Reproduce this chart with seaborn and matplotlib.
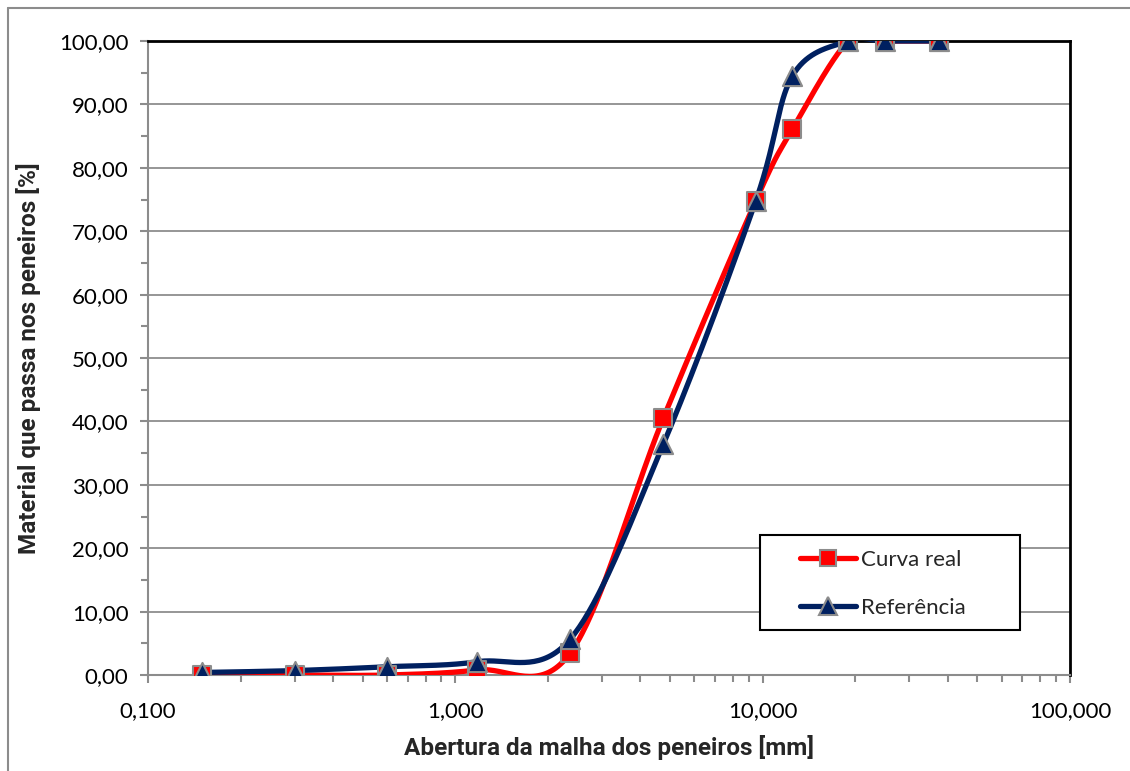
import numpy as np
import pandas as pd
import matplotlib
matplotlib.use("Agg")
import matplotlib.pyplot as plt
import seaborn as sns
from matplotlib.lines import Line2D
from matplotlib.patches import Rectangle
from matplotlib.ticker import FixedLocator, MultipleLocator, LogLocator, NullFormatter

# ---- data ----
sieves = [0.15, 0.3, 0.6, 1.18, 2.36, 4.75, 9.5, 12.5, 19.0, 25.0, 37.5]
curva_real = [0.0, 0.0, 0.0, 0.8, 3.4, 40.5, 74.8, 86.1, 100.0, 100.0, 100.0]
referencia = [0.4, 0.7, 1.3, 2.1, 5.6, 36.4, 74.8, 94.5, 100.0, 100.0, 100.0]
series_names = ["Curva real", "Referência"]
series_colors = ["#FF0000", "#002060"]
series_markers = ["s", "^"]
x_ticks = [0.1, 1, 10, 100]
x_ticklabels = ["0,100", "1,000", "10,000", "100,000"]
y_ticks = list(range(0, 101, 10))

sns.set_theme(style="white")
plt.rcParams['font.family'] = ['Lato', 'DejaVu Sans']


def smooth(xs, ys, n=40):
    """Excel-like Bezier smoothing in (log10 x, y) space."""
    lx = np.log10(np.asarray(xs, float))
    yy = np.asarray(ys, float)
    P = np.column_stack([lx, yy])
    out = []
    m = len(P)
    t = np.linspace(0, 1, n)[:, None]
    for i in range(m - 1):
        p0 = P[i]
        p3 = P[i + 1]
        pm = P[i - 1] if i > 0 else P[i]
        pp = P[i + 2] if i + 2 < m else P[i + 1]
        c1 = p0 + (p3 - pm) / 6.0
        c2 = p3 - (pp - p0) / 6.0
        seg = ((1 - t) ** 3) * p0 + 3 * ((1 - t) ** 2) * t * c1 + 3 * (1 - t) * t ** 2 * c2 + t ** 3 * p3
        out.append(seg if i == 0 else seg[1:])
    arr = np.vstack(out)
    return 10 ** arr[:, 0], arr[:, 1]


fig = plt.figure(figsize=(11.3, 7.71), dpi=100)
ax = fig.add_axes([148 / 1130, 96 / 771, 922 / 1130, 634 / 771])

for name, vals, col, mk in zip(series_names, [curva_real, referencia], series_colors, series_markers):
    sx, sy = smooth(sieves, vals)
    dfl = pd.DataFrame({"x": sx, "y": sy})
    sns.lineplot(data=dfl, x="x", y="y", ax=ax, color=col, lw=3.8, sort=False,
                 estimator=None, zorder=3, solid_capstyle="round")
    dfp = pd.DataFrame({"x": sieves, "y": vals})
    ms = 150 if mk == "s" else 190
    sns.scatterplot(data=dfp, x="x", y="y", ax=ax, color=col, marker=mk, s=ms,
                    edgecolor="#8C8C8C", linewidth=1.5, zorder=4)

ax.set_xscale("log")
ax.set_xlim(0.1, 100)
ax.set_ylim(0, 100)

ax.xaxis.set_major_locator(FixedLocator(x_ticks))
ax.set_xticklabels(x_ticklabels)
ax.xaxis.set_minor_locator(LogLocator(base=10, subs=np.arange(2, 10)))
ax.xaxis.set_minor_formatter(NullFormatter())
ax.set_yticks(y_ticks)
ax.set_yticklabels([f"{v:.2f}".replace(".", ",") for v in y_ticks])
ax.yaxis.set_minor_locator(MultipleLocator(5))

ax.grid(False)
for v in y_ticks[1:-1]:
    ax.axhline(v, color="#969696", lw=1.4, zorder=1)

for side in ["left", "bottom"]:
    ax.spines[side].set_color("#8C8C8C")
    ax.spines[side].set_linewidth(1.5)
for side in ["top", "right"]:
    ax.spines[side].set_color("black")
    ax.spines[side].set_linewidth(2.0)

ax.tick_params(axis="both", which="major", direction="out", length=6, width=1.5,
               color="#8C8C8C", labelsize=16, labelcolor="black", bottom=True, left=True)
ax.tick_params(axis="y", which="major", pad=8)
ax.tick_params(axis="x", which="major", pad=13)
ax.tick_params(axis="both", which="minor", direction="out", length=5, width=1.5,
               color="#8C8C8C", bottom=True, left=True)

lab_font = ['Roboto', 'DejaVu Sans']
ax.set_xlabel("Abertura da malha dos peneiros [mm]", fontsize=17.5, fontweight="bold",
              family=lab_font, labelpad=10)
ax.set_ylabel("Material que passa nos peneiros [%]", fontsize=17.5, fontweight="bold",
              family=lab_font, labelpad=13)

handles = [Line2D([0], [0], color=c, lw=3.8, marker=m, markersize=11 if m == "s" else 12.5,
                  markerfacecolor=c, markeredgecolor="#8C8C8C", markeredgewidth=1.5)
           for c, m in zip(series_colors, series_markers)]
leg = ax.legend(handles, series_names, loc="center left",
                bbox_to_anchor=((800 - 148) / 922, (675 - 584) / 634),
                fontsize=16, frameon=False, handlelength=2.5, labelspacing=1.25,
                borderpad=0, handletextpad=0.25, borderaxespad=0)
leg.set_zorder(6)
ax.add_patch(Rectangle(((760 - 148) / 922, (675 - 630) / 634), (1020 - 760) / 922, (630 - 535) / 634,
                       transform=ax.transAxes, facecolor="white", edgecolor="black", lw=1.5, zorder=5))

# outer chart frame (top and left visible)
fig.add_artist(Line2D([8 / 1130, 8 / 1130], [0, 1 - 8 / 771], transform=fig.transFigure,
                      color="#8C8C8C", lw=1.5))
fig.add_artist(Line2D([8 / 1130, 1], [1 - 8 / 771, 1 - 8 / 771], transform=fig.transFigure,
                      color="#8C8C8C", lw=1.5))

fig.savefig("out.png", dpi=100)
